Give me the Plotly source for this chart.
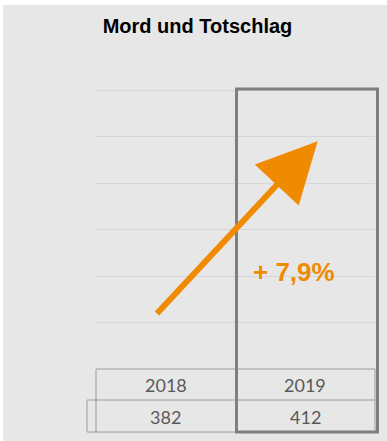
import plotly.graph_objects as go

# --- data -------------------------------------------------------------
years = ["2018", "2019"]
cases = [382, 412]
chart_title = "Mord und Totschlag"

change_pct = (cases[1] / cases[0] - 1) * 100
change_label = "+ " + f"{change_pct:.1f}".replace(".", ",") + "%"

# --- layout geometry (pixels) -----------------------------------------
W, H = 387, 441
ML, MR, MT, MB = 96, 12, 88, 72
PW, PH = W - ML - MR, H - MT - MB
Y_TOP = 480 * PH / (PH - 2)   # leaves room so the top gridline is drawn


def px_x(px):
    return (px - ML) / PW


def px_y(py):
    return (H - MB - py) / PH


BG = "#e7e7e7"
GRID = "#d6d6d6"
TABLE_LINE = "#9a9a9a"
BOX_LINE = "#7f7f7f"
ORANGE = "#f08a00"
TEXT_GRAY = "#595959"

fig = go.Figure()

# invisible series keeps the category axis and the value scale
fig.add_trace(go.Scatter(x=years, y=cases, mode="none", hoverinfo="skip",
                         showlegend=False))

shapes = []
# chart background
shapes.append(dict(type="rect", xref="paper", yref="paper", layer="below",
                   x0=px_x(3), x1=px_x(W + 5), y0=px_y(H + 5), y1=px_y(5),
                   fillcolor=BG, line=dict(width=0)))

# data table grid
col_l, col_m, col_r, key_l = 96, 236, 375, 87
row_t, row_m, row_b = 369, 400, 432
tline = dict(color=TABLE_LINE, width=1)
for (x0, y0, x1, y1) in [
    (col_l, row_t, col_r, row_t),
    (key_l, row_m, col_r, row_m),
    (key_l, row_b, col_r, row_b),
    (key_l, row_m, key_l, row_b),
    (col_l, row_t, col_l, row_b),
    (col_m, row_t, col_m, row_b),
    (col_r, row_t, col_r, row_b),
]:
    shapes.append(dict(type="line", xref="paper", yref="paper",
                       x0=px_x(x0), x1=px_x(x1), y0=px_y(y0), y1=px_y(y1),
                       line=tline))

# highlight frame around the latest year
shapes.append(dict(type="rect", xref="paper", yref="paper",
                   x0=px_x(236.5), x1=px_x(377.5), y0=px_y(432), y1=px_y(89),
                   line=dict(color=BOX_LINE, width=3)))

annotations = []
cell_font = dict(family="Lato", size=18, color=TEXT_GRAY)
for i, (yr, val) in enumerate(zip(years, cases)):
    annotations.append(dict(x=i, xref="x", y=px_y(384.5), yref="paper",
                            xanchor="center", yanchor="middle",
                            text=yr, showarrow=False, font=cell_font))
    annotations.append(dict(x=i, xref="x", y=px_y(416.5), yref="paper",
                            xanchor="center", yanchor="middle",
                            text=str(val), showarrow=False, font=cell_font))

# trend arrow
annotations.append(dict(x=1.089, y=392, xref="x", yref="y",
                        ax=-0.073, ay=93, axref="x", ayref="y",
                        text="", showarrow=True, arrowhead=2,
                        arrowsize=2.0, arrowwidth=6, arrowcolor=ORANGE,
                        standoff=0))
annotations.append(dict(x=0.919, y=167, xref="x", yref="y",
                        xanchor="center", yanchor="middle",
                        text=change_label, showarrow=False,
                        font=dict(family="Liberation Sans", size=26,
                                  color=ORANGE, weight=700)))

fig.update_layout(
    width=W, height=H,
    margin=dict(l=ML, r=MR, t=MT, b=MB, pad=0),
    paper_bgcolor="white",
    plot_bgcolor="rgba(0,0,0,0)",
    title=dict(text=chart_title, x=197.5 / W, xref="container",
               xanchor="center", y=1 - 26 / H, yref="container",
               yanchor="middle",
               font=dict(family="Liberation Sans", size=20, color="black",
                         weight=700)),
    xaxis=dict(type="category", range=[-0.5, 1.5], showgrid=False,
               showticklabels=False, zeroline=False, showline=False,
               fixedrange=True),
    yaxis=dict(range=[0, Y_TOP], dtick=80, showgrid=True, gridcolor=GRID,
               gridwidth=1, showticklabels=False, zeroline=False,
               showline=False, fixedrange=True),
    shapes=shapes,
    annotations=annotations,
    showlegend=False,
)

fig.write_html("out.html")
